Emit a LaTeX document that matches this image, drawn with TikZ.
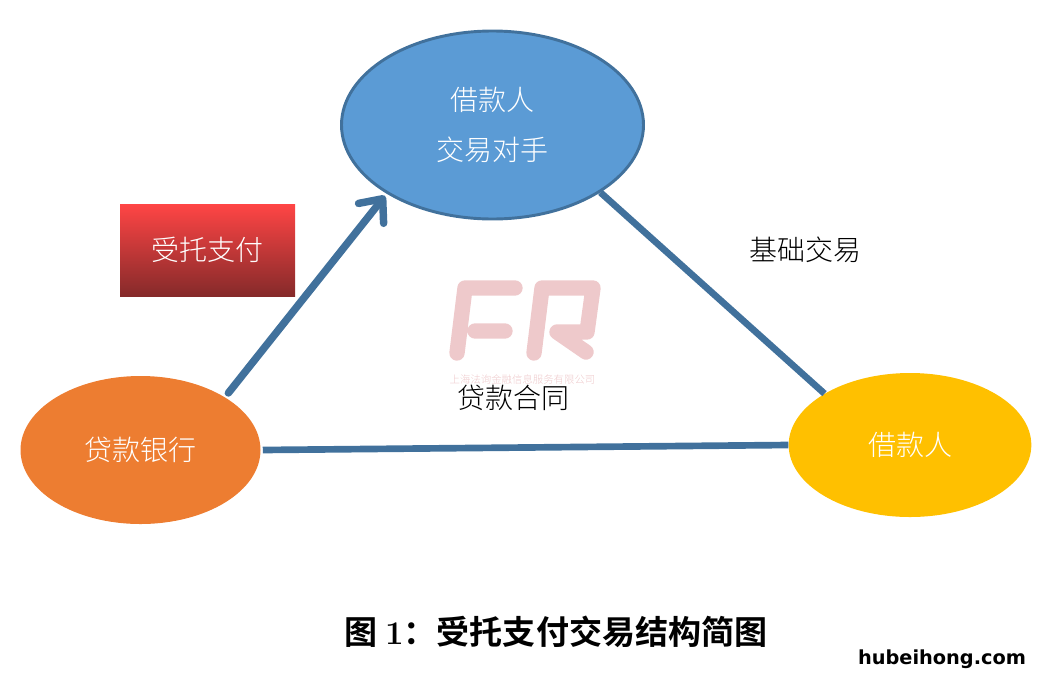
\documentclass[tikz,border=0pt]{standalone}
\usepackage{fontspec}
\usetikzlibrary{positioning,arrows.meta,shapes.geometric}
\newfontfamily\cjk[UprightFont=* Light,BoldFont=* Bold]{Noto Sans CJK SC}
\newfontfamily\markfont{DejaVu Sans}
\definecolor{linkblue}{HTML}{41719C}
\definecolor{logopink}{HTML}{EEC9CB}
\tikzset{
  party/.style={ellipse,inner sep=0pt,text=white,align=center,font=\cjk\fontsize{21}{37}\selectfont},
  caption/.style={font=\cjk\fontsize{21}{25}\selectfont,text=black},
  link/.style={line width=5pt,draw=linkblue},
  logostroke/.style={line width=11.5pt,draw=logopink,line cap=round,line join=round}
}
\begin{document}
\begin{tikzpicture}[x=0.75pt,y=0.75pt,yscale=-1,xscale=1]
\useasboundingbox (0,0) rectangle (1048,682);

% watermark
\draw[logostroke] (457,353) -- (465,288) -- (515,288) (475,331) -- (505,331);
\draw[logostroke] (534,353) -- (542,288) -- (593,288) -- (587,332) -- (557,332) -- (586,352);
\node (firm) at (522.5,380) {\cjk\fontsize{7.8}{9}\selectfont\color{logopink}上海法询金融信息服务有限公司};

% parties
\node[party,draw=linkblue,line width=2.2pt,fill={rgb,255:red,91;green,155;blue,213},minimum width=226.5pt,minimum height=141pt] (deal) at (492.5,125) {借款人\\交易对手};
\node[party,fill={rgb,255:red,237;green,125;blue,49},minimum width=180pt,minimum height=111pt] (bank) at (140.5,450) {贷款银行};
\node[party,fill={rgb,255:red,255;green,192;blue,0},minimum width=182pt,minimum height=108pt] (borrower) at (910,445) {借款人};

% links
\draw[link,line width=5.6pt,line cap=round,-{Straight Barb[length=14pt,width=24pt,round]},shorten <=4pt,shorten >=2pt] (bank.32) -- (deal.213);
\draw[link] (deal.-32) -- (borrower.149);
\draw[link] (bank.east) ++(2,0) -- (borrower.west);

% labels
\node[top color={rgb,255:red,255;green,69;blue,69},bottom color={rgb,255:red,133;green,42;blue,42},minimum width=131.25pt,minimum height=69pt,inner sep=0pt,text=white,font=\cjk\fontsize{21}{25}\selectfont] (trust) at (207.5,250) {受托支付};
\node[caption] (basis) at (805,250) {基础交易};
\node[caption] (loan) at (513,398) {贷款合同};
\node[font=\cjk\bfseries\fontsize{24.8}{30}\selectfont] (title) at (556,632) {图 {\normalfont\bfseries 1}：受托支付交易结构简图};
\node[font=\markfont\bfseries\fontsize{14.5}{16}\selectfont] (site) at (942,659) {hubeihong.com};

\end{tikzpicture}
\end{document}
